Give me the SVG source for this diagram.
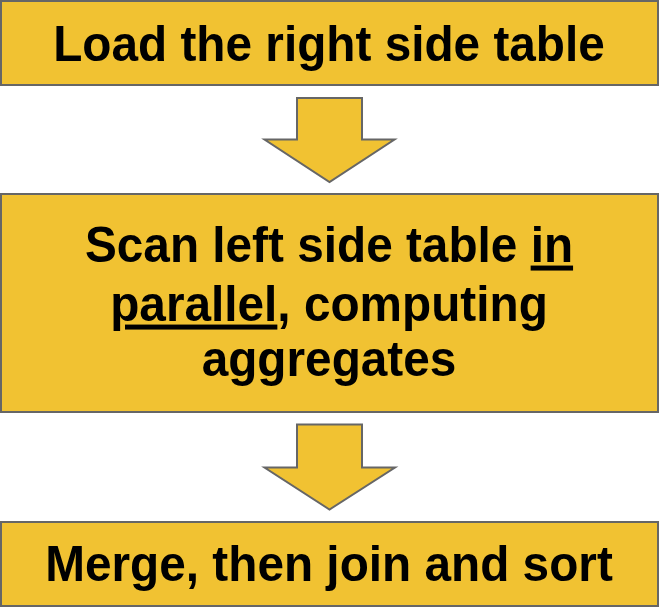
<svg xmlns="http://www.w3.org/2000/svg" width="660" height="607" viewBox="0 0 660 607">
  <style>
    .box { fill: #F1C232; stroke: #666666; stroke-width: 2; }
    .arrow { fill: #F1C232; stroke: #666666; stroke-width: 2; stroke-linejoin: miter; }
    .label { font-family: "Liberation Sans", Arial, sans-serif; font-weight: bold; font-size: 50px; fill: #000000; text-anchor: middle; }
    .u { text-decoration: underline; }
  </style>
  <rect width="660" height="607" fill="#ffffff"/>

  <g id="step-load">
    <rect class="box" x="1" y="1" width="657" height="84"/>
    <g transform="translate(329 0) scale(0.955 1)">
      <text class="label" x="0" y="61">Load the right side table</text>
    </g>
  </g>

  <g id="step-scan">
    <rect class="box" x="1" y="194" width="657" height="218"/>
    <g transform="translate(329 0) scale(0.955 1)">
      <text class="label" x="0" y="262.5">Scan left side table <tspan class="u">in</tspan></text>
      <text class="label" x="0" y="321.5"><tspan class="u">parallel</tspan>, computing</text>
      <text class="label" x="0" y="376.5">aggregates</text>
    </g>
  </g>

  <g id="step-merge">
    <rect class="box" x="1" y="522" width="657" height="84"/>
    <g transform="translate(329 0) scale(0.955 1)">
      <text class="label" x="0" y="581.5">Merge, then join and sort</text>
    </g>
  </g>

  <g id="connectors">
    <polygon class="arrow" points="297,98 362,98 362,139.5 394.5,139.5 329.5,182 264.5,139.5 297,139.5"/>
    <polygon class="arrow" points="297,424.5 362,424.5 362,467.5 395,467.5 329.5,509.5 264.5,467.5 297,467.5"/>
  </g>
</svg>
